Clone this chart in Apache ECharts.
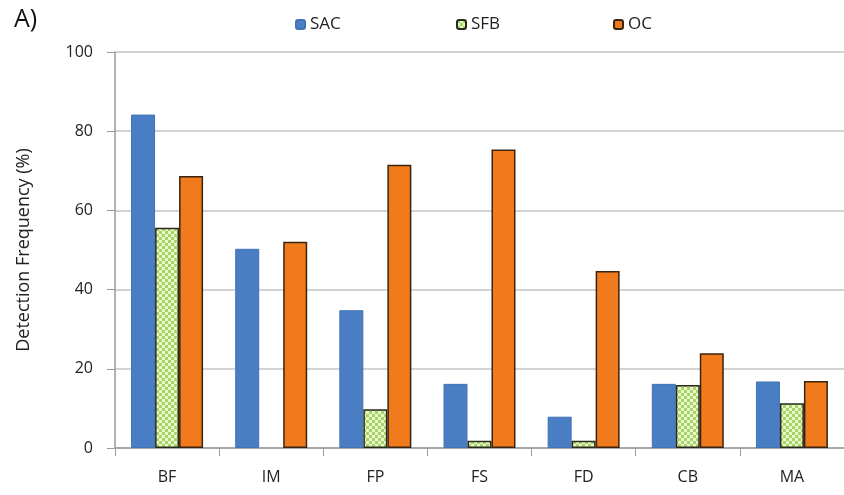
<!DOCTYPE html>
<html>
<head>
<meta charset="utf-8">
<script src="https://cdn.jsdelivr.net/npm/echarts@6/dist/echarts.min.js"></script>
<style>html,body{margin:0;padding:0;background:#fff}#c{width:844px;height:495px}</style>
</head>
<body>
<div id="c"></div>
<script>
var categories = ['BF','IM','FP','FS','FD','CB','MA'];
var sacValues = [84.2, 50.3, 34.8, 16.2, 7.9, 16.2, 16.8];
var sfbValues = [55.6, null, 9.8, 1.8, 1.8, 15.9, 11.3];
var ocValues  = [68.7, 52.1, 71.5, 75.4, 44.7, 23.9, 16.9];
var yTicks = [0, 20, 40, 60, 80, 100];

function makePattern() {
  var c = document.createElement('canvas');
  c.width = 6; c.height = 6;
  var ctx = c.getContext('2d');
  ctx.fillStyle = '#eaf7c8';
  ctx.fillRect(0, 0, 6, 6);
  ctx.fillStyle = '#a7d46a';
  ctx.fillRect(0, 0, 3, 3);
  ctx.fillRect(3, 3, 3, 3);
  return c;
}
var pattern = { image: makePattern(), repeat: 'repeat' };

var chart = echarts.init(document.getElementById('c'));
var font = 'Open Sans';
var legendText = { fontFamily: font, fontSize: 17, color: '#222' };
chart.setOption({
  animation: false,
  backgroundColor: '#fff',
  title: { text: 'A)', left: 9, top: 2, textStyle: { fontFamily: font, fontSize: 25, fontWeight: 'normal', color: '#111' } },
  legend: [
    { data: ['SAC'], left: 290, top: 11, itemWidth: 9, itemHeight: 9, itemGap: 4, textStyle: legendText },
    { data: ['SFB'], left: 451, top: 11, itemWidth: 9, itemHeight: 9, itemGap: 4, textStyle: legendText },
    { data: ['OC'], left: 608, top: 11, itemWidth: 9, itemHeight: 9, itemGap: 4, textStyle: legendText }
  ],
  grid: { left: 115, top: 52, width: 741, height: 396, containLabel: false },
  xAxis: {
    type: 'category', data: categories,
    axisLine: { lineStyle: { color: '#9a9a9a', width: 1.5 } },
    axisTick: { show: true, length: 8, lineStyle: { color: '#9a9a9a' } },
    axisLabel: { fontFamily: font, fontSize: 16, color: '#222', margin: 21 }
  },
  yAxis: {
    type: 'value', min: 0, max: 100, interval: 20,
    name: 'Detection Frequency (%)', nameLocation: 'middle', nameGap: 82,
    nameTextStyle: { fontFamily: font, fontSize: 18, color: '#222' },
    axisLine: { show: true, lineStyle: { color: '#9a9a9a', width: 1.5 } },
    axisTick: { show: true, length: 8, lineStyle: { color: '#9a9a9a' } },
    axisLabel: { fontFamily: font, fontSize: 16, color: '#222', margin: 22,
      formatter: function (v) { return yTicks.indexOf(v) >= 0 ? String(v) : ''; } },
    splitLine: { lineStyle: { color: '#c4c4c4', width: 1.5 } }
  },
  series: [
    { name: 'SAC', type: 'bar', data: sacValues, barWidth: 24, barGap: '0%',
      itemStyle: { color: '#4a7ec4', borderColor: '#4272b4', borderWidth: 1 } },
    { name: 'SFB', type: 'bar', data: sfbValues, barWidth: 24, barGap: '0%',
      itemStyle: { color: pattern, borderColor: '#2a2a1a', borderWidth: 1.5 } },
    { name: 'OC', type: 'bar', data: ocValues, barWidth: 24, barGap: '0%',
      itemStyle: { color: '#f07a1c', borderColor: '#3a2410', borderWidth: 1.5 } }
  ]
});
</script>
</body>
</html>
